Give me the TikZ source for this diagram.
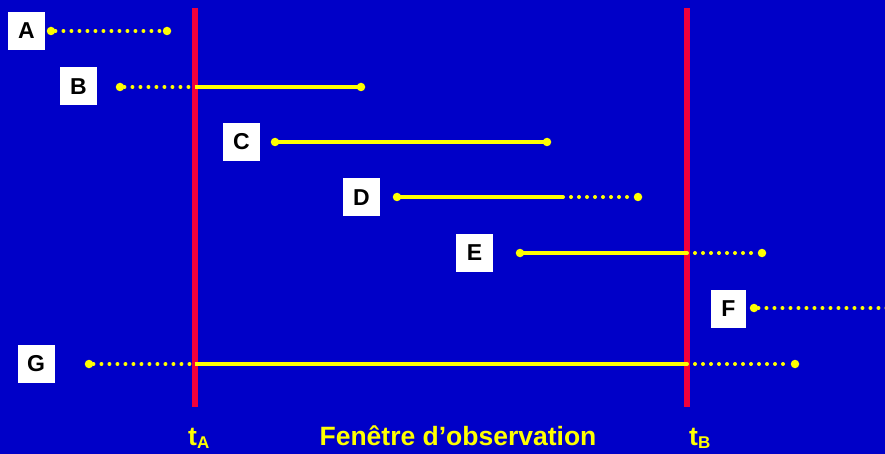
\documentclass[tikz,border=0pt]{standalone}
\usepackage{fontspec}
\setmainfont{Liberation Sans}
\definecolor{bg}{RGB}{0,0,200}
\definecolor{redline}{RGB}{240,0,60}
\definecolor{yel}{RGB}{255,255,0}
\begin{document}
\begin{tikzpicture}[x=1pt,y=-1pt,
  lbox/.style={fill=white,minimum width=37pt,minimum height=38pt,inner sep=0pt,font=\fontsize{23}{24}\selectfont\bfseries},
  solidseg/.style={yel,line width=3.5pt},
  dotseg/.style={yel,line width=4pt,line cap=round,dash pattern=on 0pt off 8pt},
  enddot/.style={circle,fill=yel,inner sep=0pt,minimum size=8.5pt},
  window/.style={redline,line width=6pt},
  bottomlbl/.style={yel,font=\fontsize{26.5}{28}\selectfont\bfseries}]
\fill[bg] (0,0) rectangle (885,454);
\useasboundingbox (0,0) rectangle (885,454);
% red window bounds
\coordinate (ta1) at (195,8); \coordinate (ta2) at (195,407);
\coordinate (tb1) at (687,8); \coordinate (tb2) at (687,407);
\draw[window] (ta1) -- (ta2);
\draw[window] (tb1) -- (tb2);
% labels
\node[lbox] (A) at (26.5,31) {A};
\node[lbox] (B) at (78.5,86.5) {B};
\node[lbox] (C) at (241.5,142) {C};
\node[lbox] (D) at (361.5,197.5) {D};
\node[lbox] (E) at (474.5,253) {E};
\node[lbox,minimum width=35pt] (F) at (728.5,308.5) {F};
\node[lbox] (G) at (36,363.5) {G};
% A
\node[enddot] (a1) at (51,31) {}; \node[enddot] (a2) at (167,31) {};
\draw[dotseg] (a1) -- (a2);
% B
\node[enddot] (b1) at (120,87) {}; \coordinate (b2) at (195,87); \node[enddot] (b3) at (361,87) {};
\draw[dotseg] (b1) -- (b2); \draw[solidseg] (b2) -- (b3.center);
% C
\node[enddot] (c1) at (275,142) {}; \node[enddot] (c2) at (547,142) {};
\draw[solidseg] (c1.center) -- (c2.center);
% D
\node[enddot] (d1) at (397,197) {}; \coordinate (d2) at (563,197); \node[enddot] (d3) at (638,197) {};
\draw[solidseg] (d1.center) -- (d2); \draw[dotseg] (d2) -- (d3);
% E
\node[enddot] (e1) at (520,253) {}; \coordinate (e2) at (687,253); \node[enddot] (e3) at (762,253) {};
\draw[solidseg] (e1.center) -- (e2); \draw[dotseg] (e2) -- (e3);
% F
\node[enddot] (f1) at (754,308) {}; \coordinate (f2) at (890,308);
\draw[dotseg] (f1) -- (f2);
% G
\node[enddot] (g1) at (89,364) {}; \coordinate (g2) at (195,364); \coordinate (g3) at (687,364); \node[enddot] (g4) at (795,364) {};
\draw[dotseg] (g1) -- (g2); \draw[solidseg] (g2) -- (g3); \draw[dotseg] (g3) -- (g4);
% bottom labels
\node[bottomlbl,anchor=base] (tA) at (199,445) {t\textsubscript{\fontsize{17}{17}\selectfont A}};
\node[bottomlbl,anchor=base] (fen) at (458,445) {Fenêtre d’observation};
\node[bottomlbl,anchor=base] (tB) at (700,445) {t\textsubscript{\fontsize{17}{17}\selectfont B}};
\end{tikzpicture}
\end{document}
